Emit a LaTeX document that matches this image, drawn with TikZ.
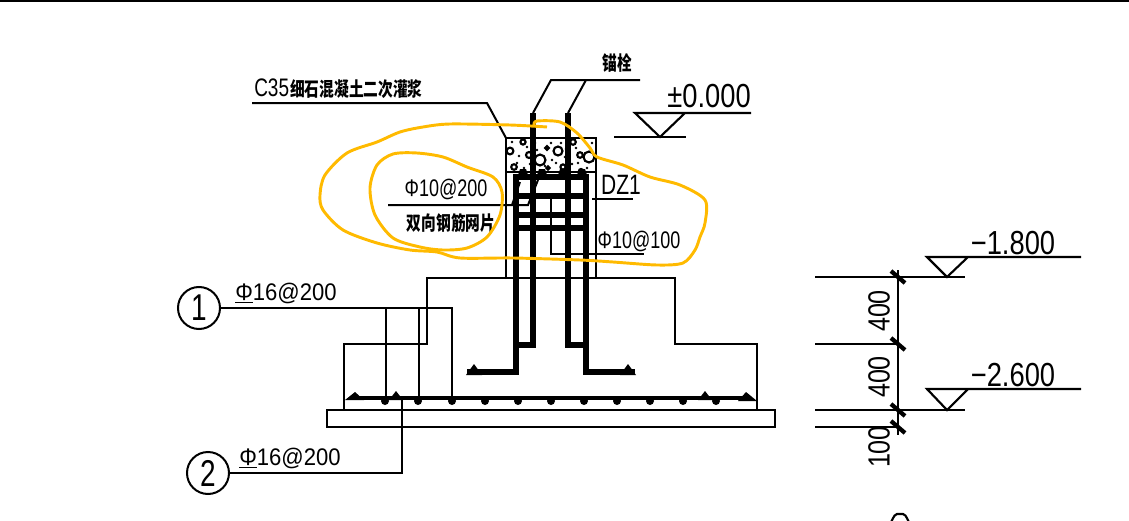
\documentclass[tikz,border=0pt]{standalone}
\usepackage{fontspec}
\setmainfont{Liberation Sans}
\newfontfamily\cadfont[FakeStretch=0.75]{Liberation Sans}
\newfontfamily\cadlevel[FakeStretch=0.82]{Liberation Sans}
\newfontfamily\cadwide[FakeStretch=0.92]{Liberation Sans}
\newfontfamily\cjkfont[FakeStretch=0.75]{Noto Sans CJK SC}
\newcommand{\hrbsym}{\underline{Φ}}

\begin{document}
\begin{tikzpicture}[x=0.75pt,y=-0.75pt,
        thinline/.style={line width=1.6pt,black},
        leader/.style={line width=1.5pt,black},
        rebar/.style={line width=4.4pt,black},
        scribble/.style={line width=2.2pt,color={rgb,255:red,255;green,186;blue,0},line join=round},
        cadlabel/.style={inner sep=0pt,font=\cadfont\fontsize{18}{18}\selectfont},
        levellabel/.style={inner sep=0pt,font=\cadlevel\fontsize{25}{25}\selectfont},
        dimlabel/.style={inner sep=0pt,rotate=90,font=\cadlevel\fontsize{23}{23}\selectfont},
        cjklabel/.style={inner sep=0pt,font=\cjkfont\bfseries\fontsize{14.7}{15}\selectfont},
        markcircle/.style={circle,draw,line width=1.5pt,minimum size=31.5pt,inner sep=0pt,font=\cadfont\fontsize{28}{28}\selectfont}]
    \useasboundingbox (0,0) rectangle (1129,521);
    \draw[thinline] (0,0.6) -- (1129,0.6);

    % column and footing
    \draw[thinline] (506,279) -- (506,138) -- (596,138) -- (596,279);
    \draw[thinline] (506,172) -- (596,172);
    \draw[thinline] (344,410) -- (344,344) -- (427,344) -- (427,278) -- (675,278) -- (675,344) -- (757,344) -- (757,410);
    \draw[line width=2pt] (327,410) rectangle (775,427);

    % grout
    \foreach \cx/\cy/\cr in {523/142/2.6,510/151/3.4,514/167/2.8,529/155/3,540/160/5.5,558/151/4.5,547/148/1.8,563/167/2.6,573/142/2.8,589/157/5.5,580/155/2.8,581/171/2,548/168/1.6}
        \draw[line width=1.6pt] (\cx,\cy) circle[radius=\cr];
    \foreach \cx/\cy in {512/142,519/156,517/163,527/147,530/164,535/143,537/150,545/166,552/160,551/143,556/163,561/143,565/157,576/148,578/163,592/143,587/168,572/164,524/168,566/149}
        \fill (\cx,\cy) circle[radius=1.4];

    % column bars
    \draw[rebar,line join=miter] (467,372) -- (516,372) -- (516,177) -- (586,177) -- (586,372) -- (635,372);
    \draw[rebar] (533,113) -- (533,345) -- (519,345);
    \draw[rebar] (568,113) -- (568,345) -- (583,345);
    \foreach \sy in {196,215,228}
        \draw[rebar] (516,\sy) -- (586,\sy);
    \foreach \tx in {523,542,563,582}
        \fill (\tx-6,178) -- (\tx-3,169) -- (\tx+3,169) -- (\tx+6,178) -- cycle;
    \fill (466,375) -- (474,364) -- (482,375) -- cycle;
    \fill (636,375) -- (628,364) -- (620,375) -- cycle;

    % bottom bars
    \draw[line width=3.4pt] (350,398) -- (751,398);
    \foreach \dx in {385,418,452,485,518,551,584,617,650,683,716}
        \fill (\dx,401) circle[radius=4];
    \fill (345,400) -- (355,392) -- (364,400) -- cycle;
    \fill (389,400) -- (396,391) -- (403,400) -- cycle;
    \fill (698,400) -- (705,391) -- (712,400) -- cycle;
    \fill (757,401) -- (746,392) -- (738,401) -- cycle;

    % leaders
    \draw[leader] (252,103) -- (487,103) -- (506,138);
    \draw[leader] (533,113) -- (551,80) -- (640,80);
    \draw[leader] (568,113) -- (586,80);
    \draw[leader] (388,205) -- (528,205) -- (538,180);
    \draw[leader] (512,205) -- (520,182);
    \draw[leader] (592,199) -- (633,199);
    \draw[leader] (551,196) -- (551,254) -- (644,254);

    \node[markcircle] (markone) at (199,308) {1};
    \node[markcircle] (marktwo) at (208,473) {2};
    \draw[leader] (markone) -- (452,308) -- (452,398);
    \draw[leader] (386,308) -- (386,398);
    \draw[leader] (419,308) -- (419,398);
    \draw[leader] (marktwo) -- (402,473) -- (402,398);

    % levels
    \draw[thinline] (614,137) -- (686,137);
    \draw[thinline] (751,113) -- (635,113) -- (660,137) -- (685,113);
    \draw[thinline] (815,277) -- (965,277);
    \draw[thinline] (815,344) -- (898,344);
    \draw[thinline] (815,410) -- (965,410);
    \draw[thinline] (815,427) -- (898,427);
    \draw[thinline] (898,270) -- (898,435);
    \foreach \ly in {277,344,410,427}
        \draw[line width=3.2pt] (891,\ly-6) -- (905,\ly+6);
    \draw[thinline] (1081,257) -- (927,257) -- (947,277) -- (968,257);
    \draw[thinline] (1081,389) -- (927,389) -- (947,410) -- (968,389);
    \draw[thinline] (891,521) to[out=-90,in=180] (897,514) -- (903,514) to[out=0,in=-90] (909,521);

    % texts
    \node[cadlabel,anchor=west,font=\cadfont\fontsize{19}{19}\selectfont] (grouttag) at (254,88) {C35};
    \node[cjklabel,anchor=west] (grouttext) at (290,89) {细石混凝土二次灌浆};
    \node[cjklabel] (bolttext) at (617,63) {锚栓};
    \node[levellabel] (topzero) at (709,96) {±0.000};
    \node[cadlabel] (meshbar) at (446,189) {Φ10@200};
    \node[cjklabel] (meshtext) at (451,223) {双向钢筋网片};
    \node[cadlabel,font=\cadfont\fontsize{21}{21}\selectfont] (colname) at (621,185) {DZ1};
    \node[cadlabel] (stirrup) at (639,241) {Φ10@100};
    \node[cadlabel,font=\cadwide\fontsize{18}{18}\selectfont] (barone) at (286,293) {\hrbsym16@200};
    \node[cadlabel,font=\cadwide\fontsize{18}{18}\selectfont] (bartwo) at (290,458) {\hrbsym16@200};
    \node[levellabel] (levelone) at (1013,243) {−1.800};
    \node[levellabel] (leveltwo) at (1013,375) {−2.600};
    \node[dimlabel] (dimone) at (879,311) {400};
    \node[dimlabel] (dimtwo) at (879,377) {400};
    \node[dimlabel] (dimthree) at (879,447) {100};

    % hand marks
    \draw[scribble] plot[smooth] coordinates {(547,127) (510,125) (450,124) (423,127) (400,132) (377,142) (347,153) (325,175) (320,195) (323,210) (343,230) (377,243) (410,250) (437,252) (460,258) (513,258) (580,260) (613,262) (657,265) (683,263) (695,250) (700,237) (705,223) (705,200) (680,185) (650,177) (623,165) (597,157) (590,148) (577,133) (560,122) (537,121) (534,125)};
    \draw[scribble] plot[smooth cycle] coordinates {(393,154) (377,165) (370,188) (375,215) (393,238) (420,247) (443,250) (467,248) (487,237) (500,215) (502,192) (493,177) (467,167) (443,157) (417,153)};
\end{tikzpicture}
\end{document}
